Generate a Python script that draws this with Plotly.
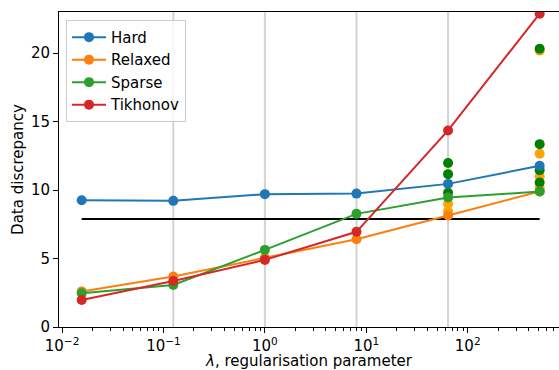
import plotly.graph_objects as go

lam = [1/64, 1/8, 1, 8, 64, 512]
hard = [9.26, 9.21, 9.70, 9.74, 10.45, 11.77]
relaxed = [2.60, 3.68, 5.05, 6.41, 8.14, 9.89]
sparse = [2.46, 3.07, 5.63, 8.26, 9.45, 9.89]
tikhonov = [1.97, 3.36, 4.90, 6.95, 14.35, 22.88]

extra_orange_x = [64, 64, 512, 512, 512, 512]
extra_orange_y = [9.0, 8.45, 20.18, 12.65, 10.99, 10.15]
extra_green_x = [64, 64, 64, 512, 512, 512, 512]
extra_green_y = [11.97, 11.16, 9.8, 20.32, 13.35, 11.45, 10.55]

threshold = 7.88
grid_x = [1/8, 1, 8, 64]

x_tickvals = [0.01, 0.1, 1, 10, 100]
x_ticktext = ["10<sup>−2</sup>", "10<sup>−1</sup>", "10<sup>0</sup>", "10<sup>1</sup>", "10<sup>2</sup>"]
y_tickvals = [0, 5, 10, 15, 20]

fig = go.Figure()

for gx in grid_x:
    fig.add_shape(type="line", xref="x", yref="paper", x0=gx, x1=gx, y0=0, y1=1,
                  line=dict(color="#d3d3d3", width=2), layer="below")

fig.add_trace(go.Scatter(x=[lam[0], lam[-1]], y=[threshold, threshold], mode="lines",
                         line=dict(color="black", width=2), showlegend=False))

fig.add_trace(go.Scatter(x=extra_orange_x, y=extra_orange_y, mode="markers",
                         marker=dict(color="#ffa500", size=10), showlegend=False))
fig.add_trace(go.Scatter(x=extra_green_x, y=extra_green_y, mode="markers",
                         marker=dict(color="#008000", size=10), showlegend=False))

series = [("Hard", hard, "#1f77b4"), ("Relaxed", relaxed, "#ff7f0e"),
          ("Sparse", sparse, "#2ca02c"), ("Tikhonov", tikhonov, "#d62728")]
for name, ys, col in series:
    fig.add_trace(go.Scatter(x=lam, y=ys, mode="lines+markers", name=name,
                             line=dict(color=col, width=2),
                             marker=dict(color=col, size=10)))

fnt = dict(family="DejaVu Sans", size=15, color="black")
fig.add_annotation(text="<i>λ</i>, regularisation parameter", xref="paper", yref="paper",
                   x=0.5, y=-0.108, xanchor="center", yanchor="middle",
                   showarrow=False, font=fnt)
fig.update_layout(
    width=559, height=370,
    margin=dict(l=59, r=0, t=12, b=43),
    paper_bgcolor="white", plot_bgcolor="white",
    font=fnt,
    legend=dict(x=0.014, y=0.975, xanchor="left", yanchor="top",
                bgcolor="rgba(255,255,255,0.8)", bordercolor="#cccccc", borderwidth=1,
                font=fnt, itemwidth=34),
    xaxis=dict(type="log", range=[-2.03, 2.90], showgrid=False, zeroline=False,
               showline=True, linecolor="black", linewidth=1, mirror=True,
               ticks="outside", ticklen=5, tickcolor="black",
               tickvals=x_tickvals, ticktext=x_ticktext, tickfont=fnt,
               minor=dict(ticks="outside", ticklen=3, tickcolor="black", dtick="D1", showgrid=False),
               automargin=False),
    yaxis=dict(range=[0, 23.0], showgrid=False, zeroline=False,
               showline=True, linecolor="black", linewidth=1, mirror=False,
               ticks="outside", ticklen=5, tickcolor="black",
               tickvals=y_tickvals, tickfont=fnt, automargin=False,
               title=dict(text="Data discrepancy", standoff=3, font=fnt)),
)

fig.write_html("out.html")
